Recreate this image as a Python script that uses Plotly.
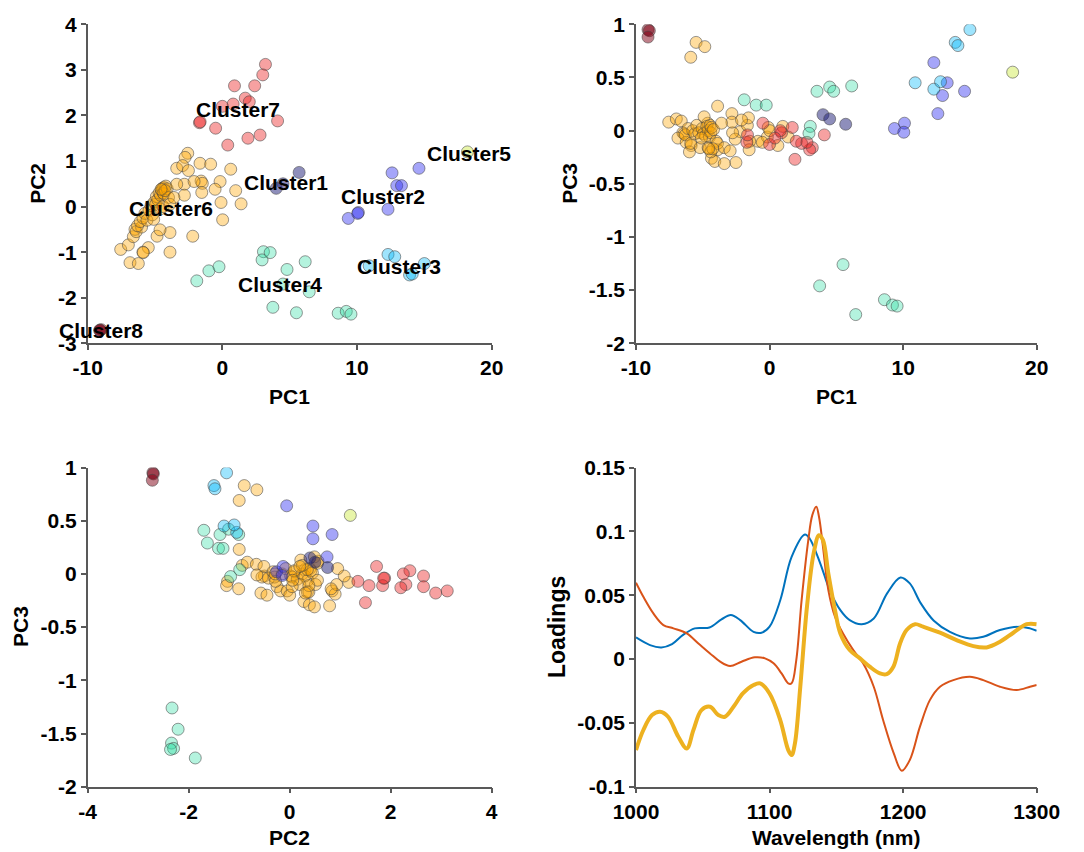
import plotly.graph_objects as go

# ---------------- scatter data (PC scores per cluster) ----------------
c1_pc1 = [5.7, 4.0, 4.5]
c1_pc2 = [0.75, 0.40, 0.50]
c1_pc3 = [0.06, 0.15, 0.11]

c2_pc1 = [12.6, 12.95, 13.3, 14.6, 12.3, 9.35, 10.1, 10.05]
c2_pc2 = [0.74, 0.46, 0.46, 0.84, -0.06, -0.26, -0.13, -0.15]
c2_pc3 = [0.16, 0.33, 0.45, 0.37, 0.64, 0.02, 0.07, -0.015]

c3_pc1 = [15.0, 13.9, 14.1, 10.9, 12.3, 12.8]
c3_pc2 = [-1.25, -1.50, -1.48, -1.30, -1.05, -1.10]
c3_pc3 = [0.95, 0.83, 0.80, 0.45, 0.39, 0.46]

c4_pc1 = [-1.9, -1.0, -0.25, 3.05, 2.95, 3.55, 4.5, 4.8, 6.15, 3.75, 5.5, 8.6, 9.2, 9.55, 6.45]
c4_pc2 = [-1.63, -1.41, -1.32, -0.99, -1.17, -1.01, -1.70, -1.38, -1.21, -2.21, -2.33, -2.34, -2.30, -2.36, -1.87]
c4_pc3 = [0.29, 0.24, 0.24, 0.04, -0.025, 0.37, 0.41, 0.37, 0.42, -1.46, -1.26, -1.59, -1.64, -1.65, -1.73]

c5_pc1 = [18.2]
c5_pc2 = [1.2]
c5_pc3 = [0.55]

c6_pc1 = [-5.5, -4.85, -5.9,
          -7.55, -6.98, -6.61, -6.49, -6.40, -6.86, -6.24, -5.87, -3.89, -3.89, -4.63, -2.2, -6.0,
          -6.3, -6.1, -5.9, -5.75, -5.6, -5.45, -5.3, -5.2, -5.05, -4.95, -4.9, -4.8, -4.7, -4.6,
          -4.5, -4.45, -4.4, -4.35, -4.35, -4.2, -4.1, -4.0, -4.6, -5.1, -4.4, -3.9, -4.25, -4.55,
          -2.57, -2.77, -3.39, -2.95, -2.52, -1.66, -0.87, 0.62, -1.58, -1.49, -0.17, -0.54, 0.99,
          -1.53, -0.1, 1.39, 0.02, -2.82, -3.39, -2.82, -3.6, -2.1]
c6_pc2 = [-0.90, -0.65, -1.0,
          -0.94, -0.84, -0.66, -0.50, -0.55, -1.23, -1.25, -1.01, -1.0, -0.57, -0.51, -0.65, -0.45,
          -0.42, -0.33, -0.25, -0.15, -0.30, -0.08, 0.02, -0.18, 0.10, 0.05, 0.22, 0.15, 0.30, 0.25,
          0.36, 0.40, 0.30, 0.42, 0.28, 0.45, 0.39, 0.20, -0.05, -0.28, 0.0, 0.05, 0.35, 0.38,
          1.17, 1.08, 0.84, 0.90, 0.79, 0.95, 0.93, 0.82, 0.56, 0.51, 0.55, 0.38, 0.35,
          0.31, 0.09, 0.06, -0.29, 0.49, 0.49, 0.25, 0.20, 0.55]
c6_pc3 = [0.83, 0.79, 0.69,
          0.08, 0.11, 0.09, -0.02, -0.03, -0.07, -0.11, -0.14, 0.23, -0.18, 0.07, -0.01, -0.20,
          -0.04, 0.02, -0.12, 0.00, -0.03, 0.05, -0.02, -0.16, 0.02, -0.03, 0.13, -0.05, 0.04, 0.00,
          -0.06, 0.05, -0.02, 0.03, -0.26, 0.01, -0.29, -0.10, -0.16, -0.07, -0.20, -0.12, -0.17, -0.17,
          -0.08, -0.02, -0.16, -0.19, -0.30, 0.05, -0.10, -0.14, 0.12, -0.10, -0.06, -0.11, 0.04,
          -0.18, 0.03, -0.06, 0.00, 0.16, -0.31, 0.08, 0.07, 0.10]

c7_pc1 = [3.2, 3.0, 0.9, 2.4, 1.7, 2.0, 0.8, 0.0, 4.1, -1.7, -0.5, 2.8, 1.9, 0.4, -1.65]
c7_pc2 = [3.12, 2.89, 2.65, 2.65, 2.38, 2.3, 2.25, 2.2, 1.88, 1.84, 1.72, 1.57, 1.50, 1.35, 1.86]
c7_pc3 = [-0.16, -0.18, -0.02, -0.12, 0.03, -0.10, 0.0, -0.13, -0.04, -0.11, 0.07, -0.11, -0.27, -0.07, -0.04]

c8_pc1 = [-9.1, -9.0, -9.1]
c8_pc2 = [-2.71, -2.70, -2.72]
c8_pc3 = [0.95, 0.94, 0.88]

cluster_names = ["Cluster1", "Cluster2", "Cluster3", "Cluster4",
                 "Cluster5", "Cluster6", "Cluster7", "Cluster8"]
cluster_label_pc1 = [4.75, 11.93, 13.14, 4.31, 18.29, -3.84, 1.16, -8.98]
cluster_label_pc2 = [0.53, 0.22, -1.32, -1.70, 1.17, -0.04, 2.12, -2.72]

# ---------------- loadings data ----------------
wl_pc1 = [1000, 1010.5, 1019, 1027, 1035, 1044, 1055, 1064, 1071, 1078, 1088, 1094, 1100, 1108,
          1116.5, 1126.5, 1130, 1138, 1145, 1153, 1160, 1169, 1178, 1188, 1198, 1205, 1213, 1223,
          1235, 1250, 1260, 1272.5, 1287.5, 1295, 1300]
ld_pc1 = [0.0169, 0.0109, 0.0091, 0.0117, 0.0187, 0.024, 0.0247, 0.031, 0.0344, 0.0305, 0.0213,
          0.0206, 0.0253, 0.046, 0.080, 0.0975, 0.0944, 0.0748, 0.054, 0.0383, 0.0305, 0.0273,
          0.0318, 0.0514, 0.0639, 0.0592, 0.044, 0.030, 0.0213, 0.0161, 0.0174, 0.0227, 0.0253,
          0.024, 0.0221]

wl_pc2 = [1000, 1005.5, 1013, 1020.5, 1028, 1038, 1046.7, 1055.4, 1063, 1070.4, 1079, 1089, 1096.6,
          1103, 1109, 1114, 1116.5, 1120, 1124, 1129, 1132, 1135, 1137, 1140, 1144, 1149, 1155,
          1162.7, 1170, 1178, 1185, 1193, 1199, 1205, 1212.6, 1220, 1227.6, 1237.6, 1250, 1260,
          1272.5, 1285, 1295, 1300]
ld_pc2 = [0.0597, 0.0487, 0.0357, 0.0266, 0.024, 0.020, 0.0122, 0.0044, -0.0021, -0.0055, -0.0021,
          0.0013, 0.0005, -0.0034, -0.0113, -0.0191, -0.0190, -0.0008, 0.0461, 0.0931, 0.1127,
          0.1192, 0.1114, 0.0879, 0.054, 0.0331, 0.020, 0.007, -0.0034, -0.0217, -0.0478, -0.0739,
          -0.0875, -0.0791, -0.053, -0.0322, -0.0217, -0.0165, -0.0139, -0.0165, -0.0217, -0.0243,
          -0.0217, -0.0204]

wl_pc3 = [1000, 1005.5, 1012, 1018, 1024, 1031.7, 1038, 1043, 1049, 1055.4, 1061.6, 1066.6, 1073,
          1080, 1088, 1093, 1100, 1108, 1114, 1116.5, 1119, 1123, 1128, 1133, 1137, 1140, 1144,
          1149, 1153, 1160, 1167.7, 1175, 1182.7, 1187.7, 1192.7, 1197.7, 1202.6, 1209, 1215,
          1227.6, 1240, 1252.6, 1262.5, 1272.5, 1282.5, 1292.5, 1300]
ld_pc3 = [-0.0713, -0.0556, -0.0439, -0.0413, -0.0452, -0.0609, -0.070, -0.0556, -0.040, -0.0374,
          -0.0439, -0.0452, -0.0374, -0.027, -0.0204, -0.0191, -0.027, -0.0478, -0.0713, -0.0752,
          -0.066, -0.0217, 0.0409, 0.0827, 0.097, 0.0931, 0.067, 0.0383, 0.020, 0.007, 0.0005,
          -0.006, -0.0113, -0.0118, -0.006, 0.0122, 0.0227, 0.0273, 0.0253, 0.0206, 0.0148, 0.0101,
          0.0091, 0.0135, 0.0206, 0.0273, 0.0273]

# ---------------- tick labels ----------------
pc1_ticks = [-10, 0, 10, 20]
pc1_ticktext = ["-10", "0", "10", "20"]
pc2_ticks_tl = [-3, -2, -1, 0, 1, 2, 3, 4]
pc2_ticktext_tl = ["-3", "-2", "-1", "0", "1", "2", "3", "4"]
pc3_ticks = [-2, -1.5, -1, -0.5, 0, 0.5, 1]
pc3_ticktext = ["-2", "-1.5", "-1", "-0.5", "0", "0.5", "1"]
pc2_ticks_bl = [-4, -2, 0, 2, 4]
pc2_ticktext_bl = ["-4", "-2", "0", "2", "4"]
wl_ticks = [1000, 1100, 1200, 1300]
wl_ticktext = ["1000", "1100", "1200", "1300"]
ld_ticks = [-0.1, -0.05, 0, 0.05, 0.1, 0.15]
ld_ticktext = ["-0.1", "-0.05", "0", "0.05", "0.1", "0.15"]

# ---------------- styling ----------------
FONT = "Arial, Liberation Sans, Helvetica, sans-serif"
fills = {
    "c1": "rgba(30,30,120,0.5)",
    "c2": "rgba(40,40,240,0.42)",
    "c3": "rgba(0,185,250,0.38)",
    "c4": "rgba(40,220,160,0.35)",
    "c5": "rgba(200,230,50,0.42)",
    "c6": "rgba(255,165,0,0.38)",
    "c7": "rgba(235,30,30,0.42)",
    "c8": "rgba(128,0,20,0.5)",
}
outline = "rgba(70,70,70,0.55)"

clusters = [
    ("c6", c6_pc1, c6_pc2, c6_pc3),
    ("c7", c7_pc1, c7_pc2, c7_pc3),
    ("c4", c4_pc1, c4_pc2, c4_pc3),
    ("c2", c2_pc1, c2_pc2, c2_pc3),
    ("c3", c3_pc1, c3_pc2, c3_pc3),
    ("c1", c1_pc1, c1_pc2, c1_pc3),
    ("c5", c5_pc1, c5_pc2, c5_pc3),
    ("c8", c8_pc1, c8_pc2, c8_pc3),
]

fig = go.Figure()


def marker(key):
    return dict(size=12, color=fills[key], line=dict(color=outline, width=1))


for key, p1, p2, p3 in clusters:
    fig.add_trace(go.Scatter(x=p1, y=p2, mode="markers", marker=marker(key),
                             xaxis="x", yaxis="y", showlegend=False))
    fig.add_trace(go.Scatter(x=p1, y=p3, mode="markers", marker=marker(key),
                             xaxis="x2", yaxis="y2", showlegend=False))
    fig.add_trace(go.Scatter(x=p2, y=p3, mode="markers", marker=marker(key),
                             xaxis="x3", yaxis="y3", showlegend=False))

fig.add_trace(go.Scatter(x=wl_pc1, y=ld_pc1, mode="lines", line=dict(color="#0072BD", width=2, shape="spline"),
                         xaxis="x4", yaxis="y4", showlegend=False))
fig.add_trace(go.Scatter(x=wl_pc2, y=ld_pc2, mode="lines", line=dict(color="#D95319", width=2, shape="spline"),
                         xaxis="x4", yaxis="y4", showlegend=False))
fig.add_trace(go.Scatter(x=wl_pc3, y=ld_pc3, mode="lines", line=dict(color="#EDB120", width=4, shape="spline"),
                         xaxis="x4", yaxis="y4", showlegend=False))

tickfont = dict(family=FONT, size=21, color="black", weight="bold")


def axis(domain, rng, tv, tt, anchor):
    return dict(domain=domain, range=rng, tickvals=tv, ticktext=tt, anchor=anchor,
                showline=True, linecolor="#595959", linewidth=1.5, ticks="outside",
                ticklen=5, tickcolor="#595959", tickwidth=1.5, showgrid=False,
                zeroline=False, tickfont=tickfont, fixedrange=True, automargin=False)


# The page body adds an 8px offset at top/left, so the figure fills the rest of the window.
OFF = 8
W, H = 1084 - OFF, 852 - OFF


def fx(px):
    return (px - OFF) / W


def fy(py):
    return (H - (py - OFF)) / H


xl = [fx(87.7), fx(491.7)]
xr = [fx(636), fx(1036.7)]
yt = [fy(343.3), fy(24.3)]
yb = [fy(786.7), fy(467.5)]

fig.update_layout(
    template="none",
    width=W, height=H,
    margin=dict(l=0, r=0, t=0, b=0, pad=0),
    paper_bgcolor="white", plot_bgcolor="white",
    xaxis=axis(xl, [-10, 20], pc1_ticks, pc1_ticktext, "y"),
    yaxis=axis(yt, [-3, 4], pc2_ticks_tl, pc2_ticktext_tl, "x"),
    xaxis2=axis(xr, [-10, 20], pc1_ticks, pc1_ticktext, "y2"),
    yaxis2=axis(yt, [-2, 1], pc3_ticks, pc3_ticktext, "x2"),
    xaxis3=axis(xl, [-4, 4], pc2_ticks_bl, pc2_ticktext_bl, "y3"),
    yaxis3=axis(yb, [-2, 1], pc3_ticks, pc3_ticktext, "x3"),
    xaxis4=axis(xr, [1000, 1300], wl_ticks, wl_ticktext, "y4"),
    yaxis4=axis(yb, [-0.1, 0.15], ld_ticks, ld_ticktext, "x4"),
)

titlefont = dict(family=FONT, size=21, color="black", weight="bold")
annotations = []
# cluster labels in the PC1-PC2 panel
for name, lx, ly in zip(cluster_names, cluster_label_pc1, cluster_label_pc2):
    annotations.append(dict(x=lx, y=ly, xref="x", yref="y", text=name, showarrow=False,
                            font=titlefont, xanchor="center", yanchor="middle"))

axis_titles = [
    ("PC1", 289.7, 396.7, 0, 21),
    ("PC2", 38, 183.8, -90, 21),
    ("PC1", 836.3, 396.7, 0, 21),
    ("PC3", 570, 183.8, -90, 21),
    ("PC2", 289.7, 837, 0, 21),
    ("PC3", 20, 627, -90, 21),
    ("Wavelength (nm)", 836.3, 837, 0, 21),
    ("Loadings", 557, 627, -90, 23),
]
for txt, px, py, ang, fs in axis_titles:
    annotations.append(dict(x=fx(px), y=fy(py), xref="paper", yref="paper", text=txt,
                            showarrow=False, textangle=ang,
                            font=dict(family=FONT, size=fs, color="black", weight="bold"),
                            xanchor="center", yanchor="middle"))

fig.update_layout(annotations=annotations)

fig.write_html("out.html")
